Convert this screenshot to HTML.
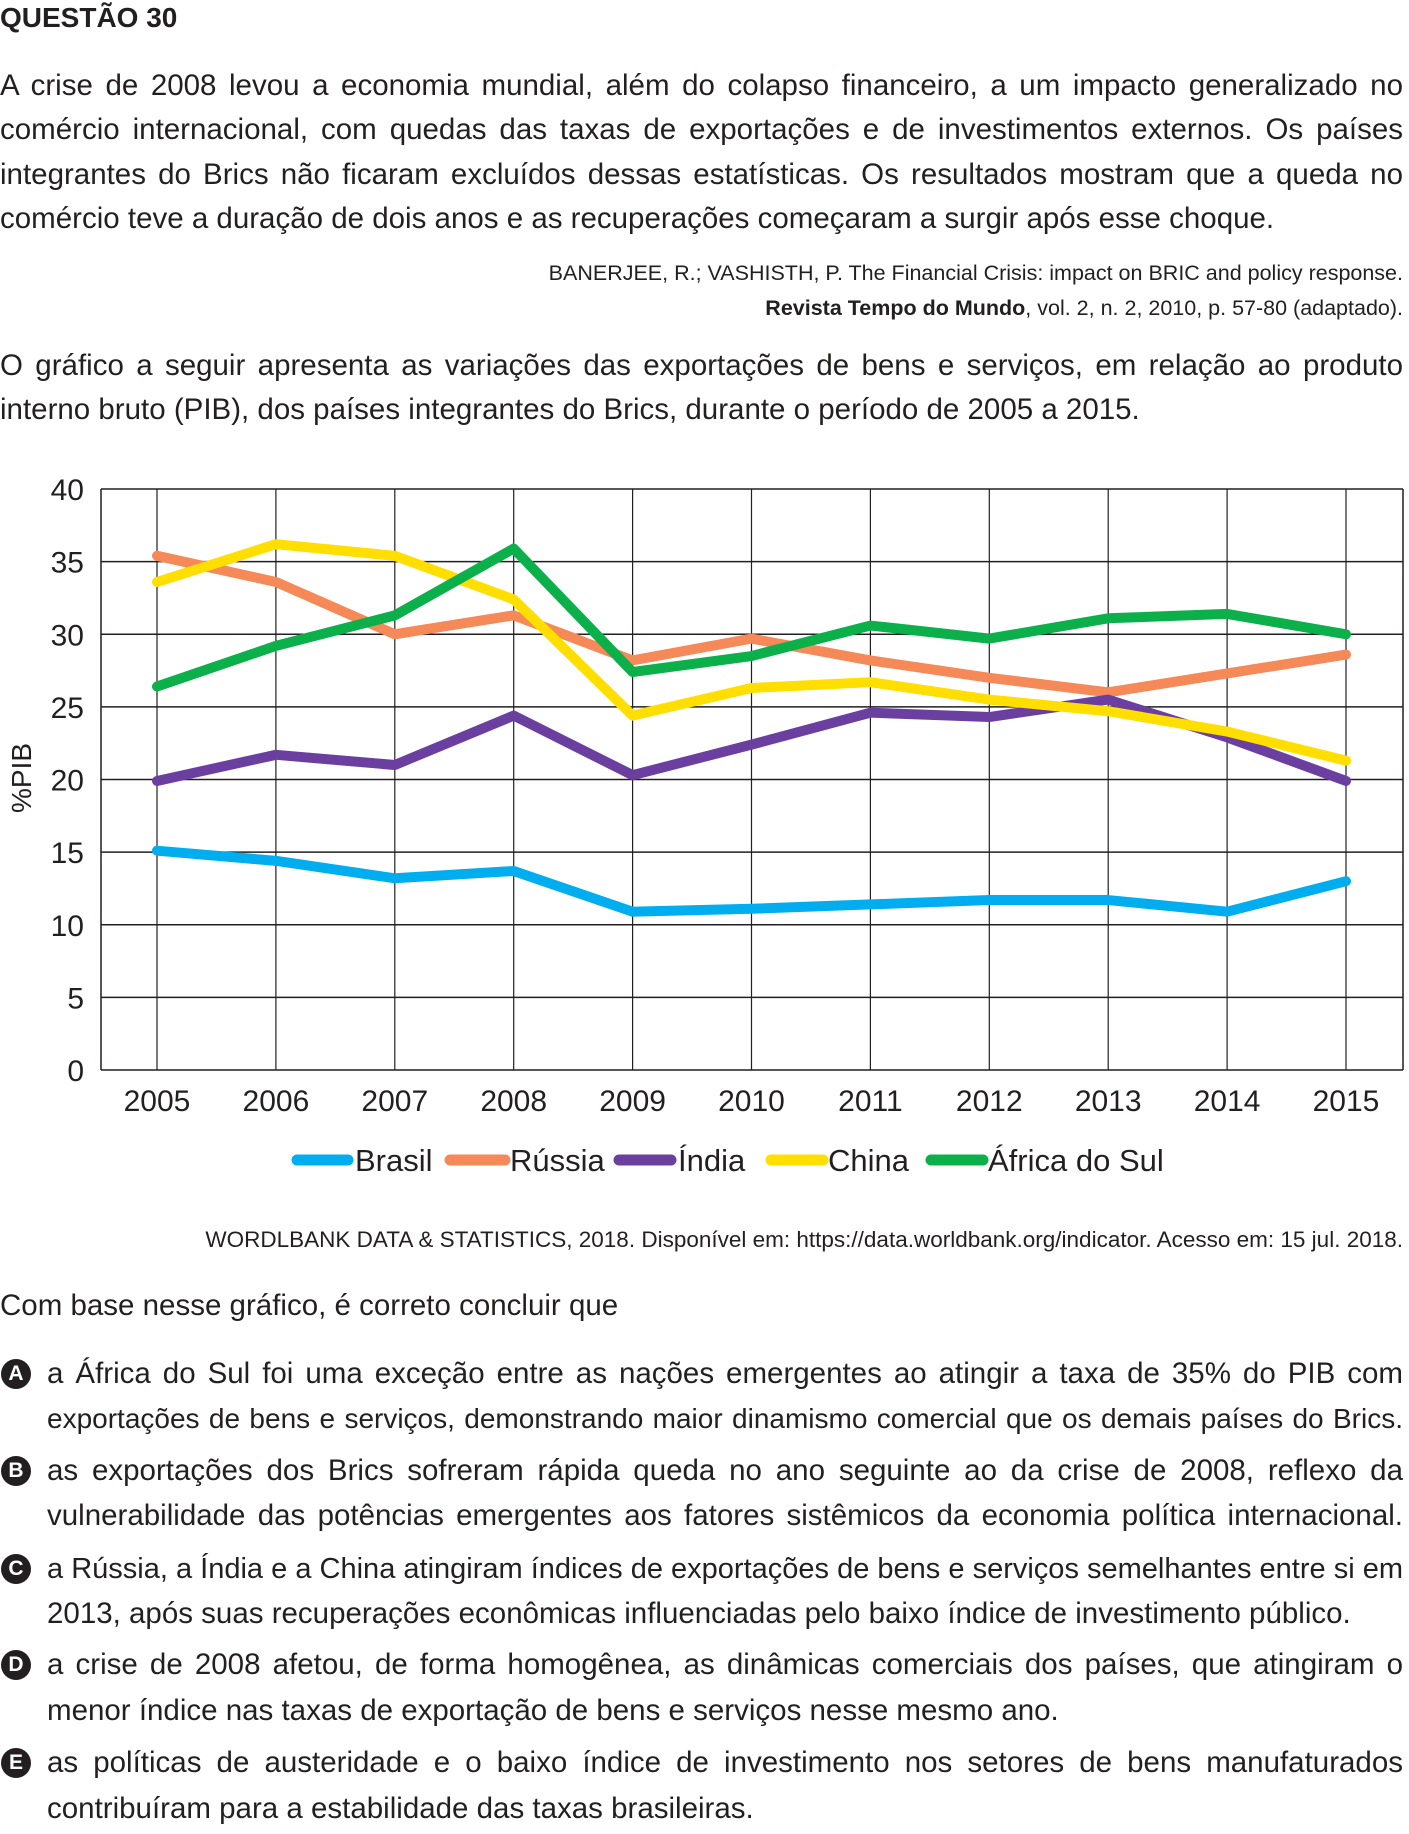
<!DOCTYPE html>
<html><head><meta charset="utf-8">
<style>
body{margin:0;width:1409px;height:1834px;background:#fff;position:relative;overflow:hidden;font-family:"Liberation Sans",sans-serif;color:#231f20}
.l{position:absolute;left:0;width:1403px;height:40px;line-height:40px;font-size:29.5px;white-space:nowrap}
.j{text-align:justify;text-align-last:justify}
.r{text-align:right;font-size:21.5px}
.o{left:47px;width:1356px}
.c{position:absolute;left:1px;width:30px;height:30px;border-radius:50%;background:#231f20;color:#fff;font-weight:bold;font-size:21px;line-height:30px;text-align:center}
svg{position:absolute;left:0;top:0}
</style></head><body>
<div class="l" style="top:-2px;font-weight:bold;font-size:28px">QUESTÃO 30</div>
<div>
<div class="l j" style="top:66px">A crise de 2008 levou a economia mundial, além do colapso financeiro, a um impacto generalizado no</div>
<div class="l j" style="top:110px">comércio internacional, com quedas das taxas de exportações e de investimentos externos. Os países</div>
<div class="l j" style="top:155px">integrantes do Brics não ficaram excluídos dessas estatísticas. Os resultados mostram que a queda no</div>
<div class="l" style="top:199px">comércio teve a duração de dois anos e as recuperações começaram a surgir após esse choque.</div>
</div>
<div>
<div class="l r" style="top:253px">BANERJEE, R.; VASHISTH, P. The Financial Crisis: impact on BRIC and policy response.</div>
<div class="l r" style="top:288px"><b>Revista Tempo do Mundo</b>, vol. 2, n. 2, 2010, p. 57-80 (adaptado).</div>
</div>
<div>
<div class="l j" style="top:346px">O gráfico a seguir apresenta as variações das exportações de bens e serviços, em relação ao produto</div>
<div class="l" style="top:390px">interno bruto (PIB), dos países integrantes do Brics, durante o período de 2005 a 2015.</div>
</div>
<svg id="chart" width="1409" height="1200"></svg>
<div class="l r" style="top:1220px;font-size:22.5px">WORDLBANK DATA &amp; STATISTICS, 2018. Disponível em: https://data.worldbank.org/indicator. Acesso em: 15 jul. 2018.</div>
<div class="l" style="top:1286px">Com base nesse gráfico, é correto concluir que</div>

<div>
<div class="c" style="top:1359px">A</div>
<div class="l j o" style="top:1354px">a África do Sul foi uma exceção entre as nações emergentes ao atingir a taxa de 35% do PIB com</div>
<div class="l j o" style="top:1399px">exportações de bens e serviços, demonstrando maior dinamismo comercial que os demais países do Brics.</div>
</div>
<div>
<div class="c" style="top:1456px">B</div>
<div class="l j o" style="top:1451px">as exportações dos Brics sofreram rápida queda no ano seguinte ao da crise de 2008, reflexo da</div>
<div class="l j o" style="top:1496px">vulnerabilidade das potências emergentes aos fatores sistêmicos da economia política internacional.</div>
</div>
<div>
<div class="c" style="top:1554px">C</div>
<div class="l j o" style="top:1549px">a Rússia, a Índia e a China atingiram índices de exportações de bens e serviços semelhantes entre si em</div>
<div class="l o" style="top:1594px">2013, após suas recuperações econômicas influenciadas pelo baixo índice de investimento público.</div>
</div>
<div>
<div class="c" style="top:1650px">D</div>
<div class="l j o" style="top:1645px">a crise de 2008 afetou, de forma homogênea, as dinâmicas comerciais dos países, que atingiram o</div>
<div class="l o" style="top:1691px">menor índice nas taxas de exportação de bens e serviços nesse mesmo ano.</div>
</div>
<div>
<div class="c" style="top:1748px">E</div>
<div class="l j o" style="top:1743px">as políticas de austeridade e o baixo índice de investimento nos setores de bens manufaturados</div>
<div class="l o" style="top:1789px">contribuíram para a estabilidade das taxas brasileiras.</div>
</div>

<script>
const years=[2005,2006,2007,2008,2009,2010,2011,2012,2013,2014,2015];
const yTicks=[0,5,10,15,20,25,30,35,40];
const seriesNames=["Brasil","Rússia","Índia","China","África do Sul"];
const brasil=[15.1,14.4,13.2,13.7,10.9,11.1,11.4,11.7,11.7,10.9,13.0];
const russia=[35.4,33.6,30.0,31.3,28.2,29.7,28.2,27.0,26.0,27.3,28.6];
const india=[19.9,21.7,21.0,24.4,20.3,22.4,24.6,24.3,25.5,22.9,19.9];
const china=[33.6,36.2,35.4,32.4,24.4,26.3,26.7,25.5,24.7,23.3,21.3];
const africa=[26.4,29.2,31.3,35.9,27.4,28.5,30.6,29.7,31.1,31.4,30.0];
const allSeries=[brasil,russia,india,china,africa];
const colors=["#00aeef","#f58958","#6b3fa0","#ffde00","#0cb04a"];

const NS="http://www.w3.org/2000/svg";
const svg=document.getElementById('chart');
const L=101,R=1403,T=489,B=1070,X0=157,X1=1346;
const xS=i=>X0+(X1-X0)*i/(years.length-1);
const yS=v=>B-(B-T)*v/40;
function mk(t,a){const e=document.createElementNS(NS,t);for(const k in a)e.setAttribute(k,a[k]);svg.appendChild(e);return e;}
yTicks.forEach(v=>{
 const g=mk('line',{x1:L,x2:R,y1:yS(v),y2:yS(v),stroke:'#231f20','stroke-width':1.5});
 
 
 const t=mk('text',{x:84,y:yS(v)+11,'text-anchor':'end','font-size':30,fill:'#231f20','font-family':'Liberation Sans, sans-serif'});
 t.textContent=v;
 
 
});
years.forEach((y,i)=>{
 const g=mk('line',{x1:xS(i),x2:xS(i),y1:T,y2:B,stroke:'#231f20','stroke-width':1.2});
 
 
 const t=mk('text',{x:xS(i),y:1111,'text-anchor':'middle','font-size':30,fill:'#231f20','font-family':'Liberation Sans, sans-serif'});
 t.textContent=y;
 
 
});
const lb=mk('line',{x1:L,x2:L,y1:T,y2:B,stroke:'#231f20','stroke-width':1.5});


const rb=mk('line',{x1:R,x2:R,y1:T,y2:B,stroke:'#231f20','stroke-width':1.5});


const yl=mk('text',{x:0,y:0,transform:'translate(31,778) rotate(-90)','text-anchor':'middle','font-size':28,fill:'#231f20','font-family':'Liberation Sans, sans-serif'});
yl.textContent='%PIB';


allSeries.forEach((s,k)=>{
 const p=mk('polyline',{points:s.map((v,i)=>xS(i)+','+yS(v)).join(' '),fill:'none',stroke:colors[k],'stroke-width':10,'stroke-linejoin':'round','stroke-linecap':'round'});
 
 
});
const legX=[[297,348,355],[450,505,510],[619,671,678],[771,823,828],[931,983,988]];
seriesNames.forEach((n,k)=>{
 const ln=mk('line',{x1:legX[k][0],x2:legX[k][1],y1:1160,y2:1160,stroke:colors[k],'stroke-width':11,'stroke-linecap':'round'});
 
 
 const t=mk('text',{x:legX[k][2],y:1171,'font-size':31,fill:'#231f20','font-family':'Liberation Sans, sans-serif'});
 t.textContent=n;
 
 
});
document.querySelectorAll('.l').forEach(el=>{
 let fs=parseFloat(getComputedStyle(el).fontSize);
 while(el.scrollWidth>el.clientWidth+1&&fs>14){fs-=0.5;el.style.fontSize=fs+'px';}
});
</script>
</body></html>
